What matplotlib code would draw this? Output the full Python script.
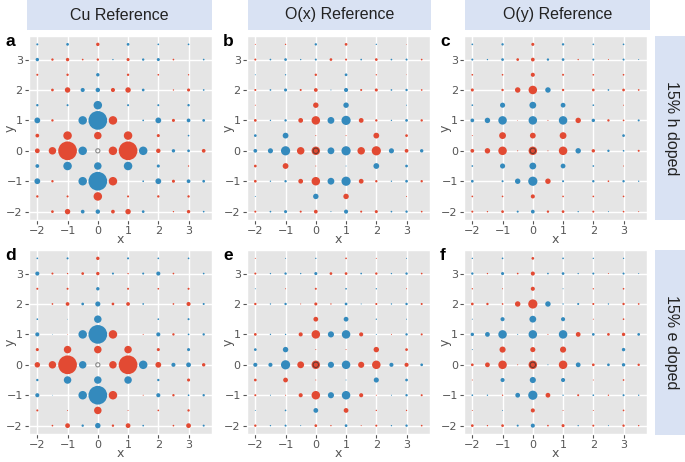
"""Correlation maps around a reference site: Cu, O(x), O(y) for h/e doping."""

import matplotlib

matplotlib.use("Agg")
import matplotlib.pyplot as plt
from matplotlib.patches import Rectangle

plt.style.use("ggplot")
plt.rcParams["font.family"] = ["DejaVu Sans"]
SANS = ["Liberation Sans", "DejaVu Sans"]

RED = "#E24A33"
BLUE = "#348ABD"
BOX = "#D9E2F3"

# lattice sites (columns left->right, rows top->bottom)
X_SITES = [-2, -1.5, -1, -0.5, 0, 0.5, 1, 1.5, 2, 2.5, 3, 3.5]
Y_SITES = [3.5, 3, 2.5, 2, 1.5, 1, 0.5, 0, -0.5, -1, -1.5, -2]

COL_TITLES = ["Cu Reference", "O(x) Reference", "O(y) Reference"]
ROW_TITLES = ["15% h doped", "15% e doped"]
LETTERS = ["a", "b", "c", "d", "e", "f"]
TICKS = [-2, -1, 0, 1, 2, 3]

# signed amplitude (+ red, - blue), 0 = no marker
CU_H = [
    [-6, 0, -8, 0, 10, 0, -8, 0, -5, 0, -5, 0],
    [-10, 7, 10, 5, 7, -4, 9, -7, -9, 5, 0, -5],
    [6, 0, 7, 0, -10, 0, 7, 0, 5, 0, 4, 0],
    [0, 8, 16, -12, -13, 12, 16, -8, 0, 4, 9, -5],
    [-7, 0, -6, 0, -25, 0, -6, 0, -6, 0, -7, 0],
    [-17, 7, 0, -25, -55, 25, 0, -5, -17, 9, -11, -8],
    [11, 0, 25, 0, 22, 0, 25, 0, 9, 0, -5, 0],
    [14, 22, 55, -25, 0, 25, 55, -25, 13, -10, -8, 11],
    [-11, 0, -25, 0, -22, 0, -25, 0, -9, 0, 4, 0],
    [-17, 7, 0, -25, -55, 25, 0, -5, -17, 9, -11, -8],
    [7, 0, 6, 0, 25, 0, 6, 0, 7, 0, 7, 0],
    [0, 8, 16, -11, -13, 11, 16, -8, 0, 4, 10, -5],
]
OX_H = [
    [3, 0, 4, 0, -7, 0, 8, 0, -4, 0, 2, 0],
    [6, -5, -8, -4, -6, 8, 6, -5, 8, -5, -6, 5],
    [-3, 0, -4, 0, 7, 0, -8, 0, 4, 0, 2, 0],
    [6, -5, -9, 6, 11, -3, -12, 6, 9, -5, -7, 5],
    [3, 0, 0, 0, 16, 0, -16, 0, 0, 0, -3, 0],
    [8, -4, -7, 14, 25, -20, -27, 14, 7, -4, -8, 7],
    [-8, 0, -17, 0, 3, 0, 3, 0, 17, 0, 8, 0],
    [-11, -15, -27, 22, 25, -20, -27, 22, 27, -15, 11, -10],
    [8, 0, 17, 0, 3, 0, -3, 0, -17, 0, -8, 0],
    [8, -4, -7, 14, 25, -20, -27, 14, 7, -4, -8, 7],
    [-3, 0, 0, 0, -16, 0, 16, 0, 0, 0, 3, 0],
    [6, -5, -9, 6, 11, -3, -12, 6, 9, -5, -7, 5],
]
OY_H = [
    [-5, 0, -7, 0, 9, 0, -7, 0, -5, 0, -5, 0],
    [-6, -4, -8, 8, 11, -7, -8, 4, -6, 3, -6, -3],
    [5, 0, 5, 0, 12, 0, 6, 0, 5, 0, 5, 0],
    [9, 0, 7, 16, 25, -16, 7, 0, 8, -5, 8, 5],
    [-5, 0, -15, 0, -20, 0, -14, 0, -5, 0, 3, 0],
    [-11, -16, -25, 2, -25, 3, -25, 16, -10, 7, 5, -6],
    [3, 0, 20, 0, 17, 0, 20, 0, 0, 0, -8, 0],
    [11, 16, 25, 3, 25, 3, 25, -16, 10, -7, -5, 6],
    [-5, 0, -15, 0, -20, 0, -14, 0, -5, 0, 3, 0],
    [-8, 0, -6, -16, -27, 16, -6, 0, -7, 5, -7, -4],
    [5, 0, 5, 0, 12, 0, 5, 0, 5, 0, 5, 0],
    [6, 4, 8, -6, -11, 7, 8, -4, 6, -3, 5, 3],
]
CU_E = [
    [-5, 0, -6, 0, 10, 0, -6, 0, -5, 0, -5, 0],
    [-12, 6, 4, 8, 10, -6, 4, -6, -12, 5, 0, -5],
    [6, 0, 6, 0, -10, 0, 6, 0, 5, 0, 6, 0],
    [0, 5, 11, -8, -15, 8, 11, -5, 0, 5, 12, -6],
    [-5, 0, -2, 0, -22, 0, 0, 0, -5, 0, -6, 0],
    [-12, -2, 2, -25, -55, 25, 0, 3, -12, 7, -5, -7],
    [9, 0, 22, 0, 22, 0, 22, 0, 9, 0, -9, 0],
    [16, 22, 55, -22, 0, 22, 55, -25, 17, -12, -14, 10],
    [-7, 0, -22, 0, -22, 0, -22, 0, -7, 0, 9, 0],
    [-12, -2, 0, -25, -55, 25, 0, 3, -12, 7, -5, -7],
    [6, 0, 3, 0, 22, 0, 3, 0, 5, 0, 7, 0],
    [0, 5, 14, -7, -16, 7, 14, -5, 0, 5, 14, -6],
]
OX_E = [
    [3, 0, -3, 0, -4, 0, 5, 0, 3, 0, -3, 0],
    [6, -4, -7, -4, -9, 8, 8, -5, 7, -4, -7, 5],
    [-3, 0, 3, 0, 6, 0, -5, 0, -4, 0, 3, 0],
    [7, -4, -7, 3, 9, 4, -8, -3, 6, -4, -7, 6],
    [0, 0, 0, 0, 14, 0, -14, 0, -4, 0, -3, 0],
    [8, -4, -4, 12, 25, -18, -25, 12, -3, 3, -7, 6],
    [-8, 0, -16, 0, 3, 0, 3, 0, 16, 0, 8, 0],
    [-12, -12, -27, 20, 25, -18, -25, 18, 25, -12, 12, -8],
    [8, 0, 14, 0, 3, 0, -3, 0, -15, 0, -8, 0],
    [6, -3, 3, 12, 25, -18, -25, 12, 3, -3, -7, 6],
    [-3, 0, -5, 0, -14, 0, 14, 0, 4, 0, 4, 0],
    [7, -4, -6, -3, 8, 4, -8, 3, 6, -4, -7, 5],
]
OY_E = [
    [-4, 0, -5, 0, 8, 0, -5, 0, -4, 0, -4, 0],
    [-7, 4, -9, 5, 12, -5, -8, -4, -6, 3, -6, -3],
    [4, 0, 3, 0, 12, 0, -3, 0, 4, 0, 5, 0],
    [8, 7, 5, 16, 27, -16, -4, -6, 6, -4, 7, 5],
    [-3, 0, -12, 0, -20, 0, -12, 0, 3, 0, 5, 0],
    [-10, -14, -25, -3, -25, 3, -25, 14, -8, 8, 10, -8],
    [-3, 0, 18, 0, 15, 0, 18, 0, 0, 0, -10, 0],
    [8, 14, 25, 3, 25, -3, 25, -14, 8, -8, -10, 7],
    [3, 0, -12, 0, -18, 0, -12, 0, 3, 0, 5, 0],
    [-5, -4, 4, -14, -27, 14, -4, 6, -5, 4, -6, -4],
    [3, 0, -3, 0, 12, 0, 3, 0, 3, 0, 5, 0],
    [8, 4, 8, -6, -12, 5, 9, -4, 6, -3, 7, 4],
]

PANELS = [CU_H, OX_H, OY_H, CU_E, OX_E, OY_E]

W, H = 685, 462
AX_LEFT = [29, 247, 464]          # px
AX_W = 183
ROW_TOP = [36, 250]
AX_H = 184


def fx(px):
    return px / W


def fy(px):
    return 1 - px / H


def draw_panel(ax, grid, is_cu):
    xs, ys, ss, cs = [], [], [], []
    for i, row in enumerate(grid):
        for j, v in enumerate(row):
            if v == 0:
                continue
            xs.append(X_SITES[j])
            ys.append(Y_SITES[i])
            ss.append((0.245 * abs(v)) ** 2)
            cs.append(RED if v > 0 else BLUE)
    ax.scatter(xs, ys, s=ss, c=cs, linewidths=0, zorder=3)
    # reference site ring
    if is_cu:
        ax.scatter([0], [0], s=9, facecolors="none", edgecolors="#8a8a8a",
                   linewidths=0.8, zorder=4)
    else:
        ax.scatter([0], [0], s=15, facecolors="none", edgecolors="#6b3a30",
                   linewidths=0.8, zorder=4)
    labels = [f"{t}".replace("-", "\u2212") for t in TICKS]
    ax.set_xticks(TICKS)
    ax.set_yticks(TICKS)
    ax.set_xticklabels(labels)
    ax.set_yticklabels(labels)
    ax.tick_params(labelsize=8, colors="#555555", length=3, pad=1.5)
    ax.set_xlabel("x", fontsize=9, color="#555555")
    ax.set_ylabel("y", fontsize=9, color="#555555")
    ax.xaxis.set_label_coords(0.5, -0.072)
    ax.yaxis.set_label_coords(-0.07, 0.5)
    ax.grid(True, color="white", linewidth=1)
    ax.set_axisbelow(True)


fig = plt.figure(figsize=(6.85, 4.62), dpi=100)
fig.patch.set_facecolor("white")

for k, grid in enumerate(PANELS):
    r, c = divmod(k, 3)
    left = AX_LEFT[c]
    top = ROW_TOP[r]
    ax = fig.add_axes([fx(left), fy(top + AX_H), AX_W / W, AX_H / H])
    draw_panel(ax, grid, c == 0)
    fig.text(fx(left - 24), fy(top + 5), LETTERS[k], fontsize=12.5,
             fontweight="bold", ha="left", va="center", family=SANS)

# column headers
HEAD = [(27, 212), (248, 431), (465, 650)]
for (x0, x1), title in zip(HEAD, COL_TITLES):
    fig.patches.append(Rectangle((fx(x0), fy(30)), (x1 - x0) / W, 30 / H,
                                 transform=fig.transFigure, facecolor=BOX,
                                 edgecolor="none"))
    fig.text(fx((x0 + x1) / 2), fy(15), title, fontsize=11.5, ha="center",
             va="center", color="#222222", family=SANS)

# row labels
ROWBOX = [(36, 220), (250, 435)]
for (y0, y1), title in zip(ROWBOX, ROW_TITLES):
    fig.patches.append(Rectangle((fx(655), fy(y1)), 30 / W, (y1 - y0) / H,
                                 transform=fig.transFigure, facecolor=BOX,
                                 edgecolor="none"))
    fig.text(fx(671), fy((y0 + y1) / 2), title, fontsize=11.5, rotation=-90,
             ha="center", va="center", color="#222222", family=SANS)

fig.savefig("out.png", dpi=100)
